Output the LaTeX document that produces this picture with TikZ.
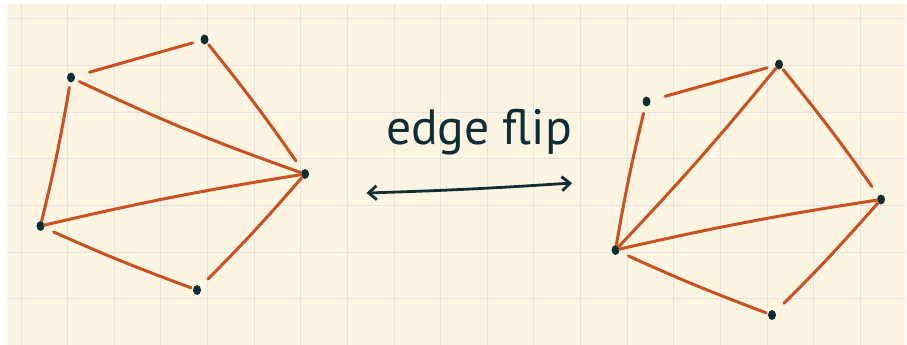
\documentclass[tikz,border=0pt]{standalone}
\usepackage{fontspec}
\newfontfamily\handfont{PT Sans}
\usetikzlibrary{arrows.meta}
\definecolor{paper}{HTML}{FDF5E2}
\definecolor{gridc}{HTML}{E9E0E6}
\definecolor{edgec}{HTML}{C9501F}
\definecolor{ink}{HTML}{0E2D35}
\tikzset{
  vtx/.style={ellipse, fill=ink, inner sep=0pt, minimum width=8pt, minimum height=10pt},
  edg/.style={draw=edgec, line width=3pt, line cap=round},
  gridline/.style={draw=gridc, line width=1pt},
}
\usetikzlibrary{shapes.geometric}
\begin{document}
\begin{tikzpicture}[x=1pt,y=-1pt]
\useasboundingbox (0,0) rectangle (907,345);
\fill[white] (0,0) rectangle (907,345);
\fill[paper] (7,4) rectangle (906,345);
\foreach \k in {0,...,18} \draw[gridline] ({21+46.63*\k},4) -- ({21+46.63*\k},345);
\foreach \k in {0,...,6} \draw[gridline] (7,{19+46.63*\k}) -- (906,{19+46.63*\k});

% left graph
\node[vtx] (a) at (71,77.5) {};
\node[vtx] (b) at (204.5,39.5) {};
\node[vtx] (c) at (305,174) {};
\node[vtx] (d) at (40.5,226) {};
\node[vtx] (e) at (197,290) {};
\draw[edg, shorten <=15pt, shorten >=8pt] (a) -- (b);
\draw[edg, shorten <=2pt, shorten >=11pt] (b) to[bend left=2] (c);
\draw[edg, shorten <=5pt] (a) to[bend right=3] (c);
\draw[edg, shorten <=5pt] (a) to[bend left=2] (d);
\draw[edg] (d) to[bend left=2] (c);
\draw[edg, shorten <=10pt, shorten >=2pt] (d) to[bend right=2] (e);
\draw[edg, shorten <=11pt] (e) to[bend right=2] (c);

% arrow and label
\coordinate (l) at (366.5,193);
\coordinate (r) at (572,183);
\draw[ink, line width=2.8pt, line cap=round, {Straight Barb[length=8pt,width=14pt,line width=2.8pt]}-{Straight Barb[length=8pt,width=14pt,line width=2.8pt]}] (l) to[bend right=1] (r);
\node[text=ink, inner sep=0pt, anchor=base] (lbl) at (479,144) {\resizebox{186pt}{!}{\handfont edge flip}};

% right graph
\node[vtx] (p) at (646.5,101.5) {};
\node[vtx] (q) at (779,64.5) {};
\node[vtx] (rr) at (881,199.5) {};
\node[vtx] (s) at (615.5,250) {};
\node[vtx] (t) at (772,315) {};
\draw[edg, shorten <=15pt, shorten >=8pt] (p) -- (q);
\draw[edg, shorten <=7pt] (p) to[bend right=2] (s);
\draw[edg] (q) to[bend left=2] (s);
\draw[edg, shorten <=2pt, shorten >=11pt] (q) to[bend left=2] (rr);
\draw[edg] (s) to[bend left=2] (rr);
\draw[edg, shorten <=10pt, shorten >=2pt] (s) to[bend right=2] (t);
\draw[edg, shorten <=12pt] (t) to[bend right=2] (rr);
\end{tikzpicture}
\end{document}
